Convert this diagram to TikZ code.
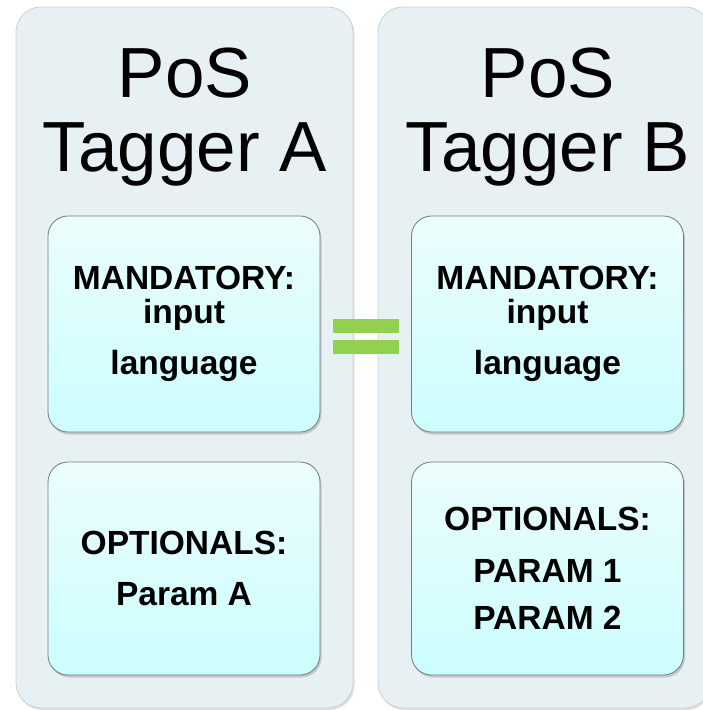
\documentclass[tikz,border=0pt]{standalone}
\usepackage{fontspec}
\setmainfont{Liberation Sans}
\usetikzlibrary{shadows}
\definecolor{panelfill} {RGB}{231,241,244}
\definecolor{panelline} {RGB}{200,210,213}
\definecolor{boxtop}    {RGB}{236,253,253}
\definecolor{boxbottom} {RGB}{204,253,254}
\definecolor{boxline}   {RGB}{112,124,126}
\definecolor{eqgreen}   {RGB}{146,208,80}

\begin{document}
\begin{tikzpicture}[x=1pt, y=-1pt,
  panel/.style={draw=panelline, fill=panelfill, line width=0.8pt,
    rounded corners=25pt, inner sep=0pt,
    drop shadow={shadow xshift=1.5pt, shadow yshift=-2pt, opacity=0.25}},
  title/.style={align=center, inner sep=0pt,
    font=\fontsize{71}{74}\selectfont},
  parambox/.style={draw=boxline, line width=0.8pt, rounded corners=20pt,
    top color=boxtop, bottom color=boxbottom, inner sep=0pt,
    minimum width=272pt, align=center,
    font=\fontsize{33.5}{47}\selectfont\bfseries,
    drop shadow={shadow xshift=1.5pt, shadow yshift=-2.5pt, opacity=0.35}},
  eqbar/.style={fill=eqgreen, inner sep=0pt, minimum width=66pt, minimum height=14pt}]
  \useasboundingbox (0,0) rectangle (702,710);
  % outer panels
  \node[panel, minimum width=337pt, minimum height=701pt] (panelA) at (184.5,357.5) {};
  \node[panel, minimum width=332pt, minimum height=701pt] (panelB) at (544,357.5) {};
  % titles
  \node[title] (titleA) at (185,117) {PoS\\Tagger A};
  \node[title] (titleB) at (548,117) {PoS\\Tagger B};
  % tagger A
  \node[parambox, minimum height=216pt] (mandA) at (184,324)
    {MANDATORY:\\[-13pt] input\\[4pt] language};
  \node[parambox, minimum height=213pt] (optA) at (184,568.5)
    {OPTIONALS:\\[4pt] Param A};
  % tagger B
  \node[parambox, minimum height=216pt] (mandB) at (547.5,324)
    {MANDATORY:\\[-13pt] input\\[4pt] language};
  \node[parambox, minimum height=213pt] (optB) at (547.5,568.5)
    {OPTIONALS:\\[5pt] PARAM 1\\ PARAM 2};
  % equals sign
  \node[eqbar] (eqtop) at (366,326) {};
  \node[eqbar] (eqbot) at (366,347) {};
\end{tikzpicture}
\end{document}
